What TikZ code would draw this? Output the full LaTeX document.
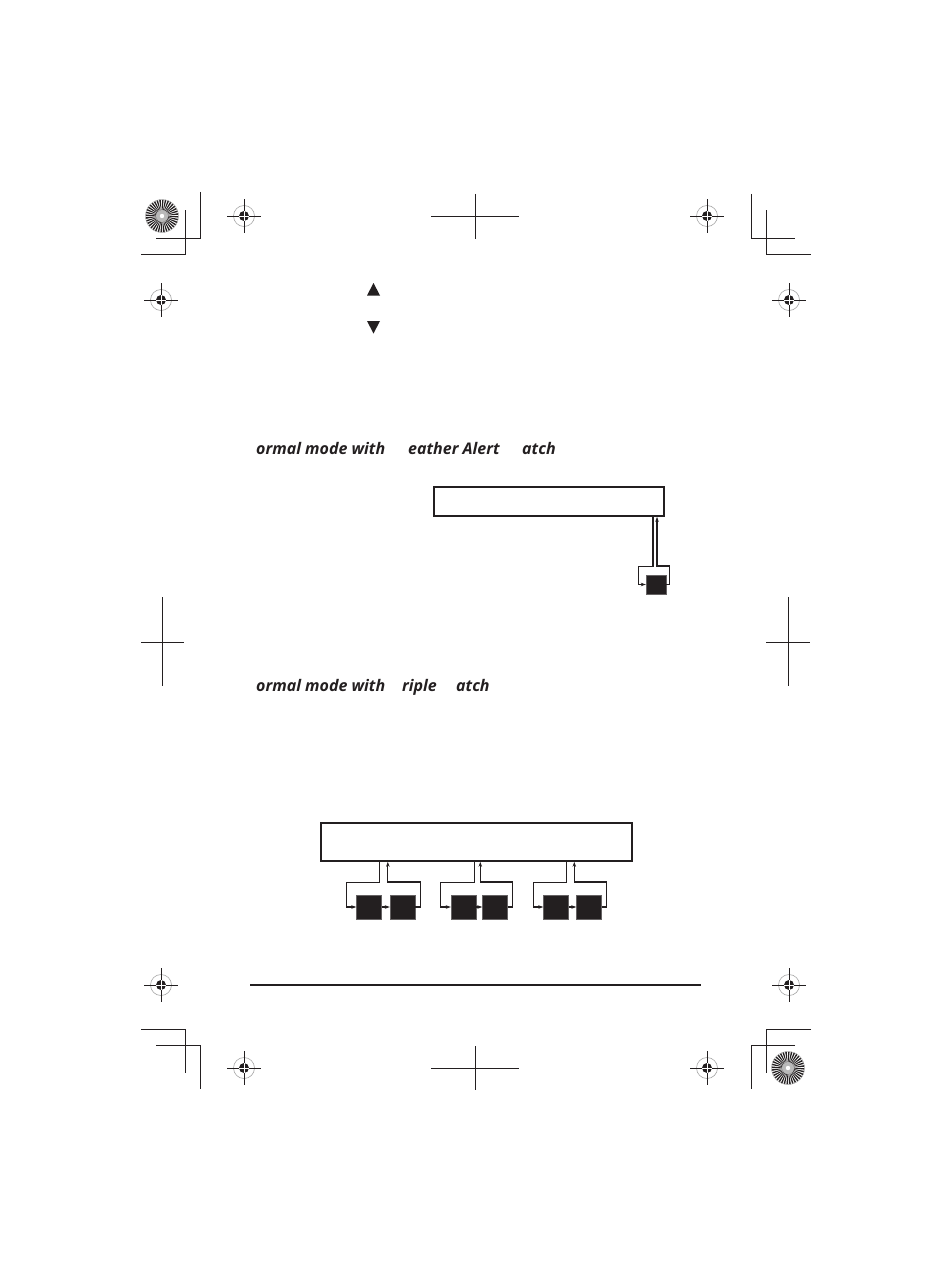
\documentclass[tikz,border=0pt]{standalone}
\usepackage{fontspec}
\newfontfamily\labelfont{Open Sans}
\usetikzlibrary{arrows.meta}
\definecolor{ink}{HTML}{231F20}
\tikzset{
  cropline/.style={line width=1pt, ink},
  box/.style={draw=ink, line width=1.6pt, fill=white, inner sep=0pt},
  blk/.style={fill=ink, draw=ink!70, line width=0.4pt, inner sep=0pt, minimum height=24pt, minimum width=25pt},
  conn/.style={draw=ink, line width=1.1pt},
  arr/.style={-{Stealth[length=5pt,width=3.5pt]}},
  lbl/.style={inner sep=0pt, anchor=base west, text=ink, font=\labelfont\bfseries\itshape\fontsize{16}{19}\selectfont},
  regcross/.pic={
    \draw[gray!70, line width=0.6pt] (0,0) circle (10.5);
    \fill[ink] (0,0) circle (5);
    \draw[ink, line width=0.9pt] (-17,0) -- (17,0) (0,-17) -- (0,17);
    \draw[white, line width=0.5pt] (-5,0) -- (5,0) (0,-5) -- (0,5);
  },
  starburst/.pic={
    \fill[white] (0,0) circle (16.5);
    \foreach \a in {0,10,...,350} {
      \fill[ink] (0,0) -- (\a:16.5) arc (\a:\a+5.5:16.5) -- cycle;
    }
    \draw[gray!60, line width=0.5pt] (0,0) circle (16.5);
    \fill[gray!55] (0,0) circle (6);
    \fill[white] (0,0) circle (2.2);
  }
}
\begin{document}
\begin{tikzpicture}[x=1pt,y=-1pt]
\useasboundingbox (0,0) rectangle (950,1284);
\fill[white] (0,0) rectangle (950,1284);

% starbursts
\pic at (162,216) {starburst};
\pic at (788,1068) {starburst};

% registration crosshairs
\foreach \p in {(244,216),(707,216),(161,300),(789,300),(161,985),(789,985),(244,1068),(707,1068)}
  \pic at \p {regcross};

% corner crop marks
\draw[cropline] (200,192) -- (200,238) -- (156,238);
\draw[cropline] (185,210) -- (185,254) -- (141,254);
\draw[cropline] (751,194) -- (751,238) -- (795,238);
\draw[cropline] (766,210) -- (766,254) -- (811,254);
\draw[cropline] (141,1029) -- (185,1029) -- (185,1073);
\draw[cropline] (156,1045) -- (200,1045) -- (200,1089);
\draw[cropline] (811,1029) -- (766,1029) -- (766,1073);
\draw[cropline] (795,1045) -- (751,1045) -- (751,1089);

% centre crosses
\draw[cropline] (431,216) -- (519,216) (475,194) -- (475,239);
\draw[cropline] (431,1068) -- (519,1068) (475,1046) -- (475,1090);
\draw[cropline] (141,642) -- (184,642) (162,597) -- (162,686);
\draw[cropline] (766,642) -- (810,642) (788,597) -- (788,686);

% triangles
\fill[ink] (367,295.5) -- (380,295.5) -- (373.5,283) -- cycle;
\fill[ink] (367,321) -- (380,321) -- (373.5,333.5) -- cycle;

% headings
\node[lbl] (h1a) at (256,454) {ormal mode with};
\node[lbl] (h1b) at (408,454) {eather Alert};
\node[lbl] (h1c) at (522,454) {atch};
\node[lbl] (h2a) at (256,691) {ormal mode with};
\node[lbl] (h2b) at (402,691) {riple};
\node[lbl] (h2c) at (456,691) {atch};

% first diagram
\node[box, minimum width=230pt, minimum height=29pt] (top) at (549,501.5) {};
\node[blk, minimum width=20pt, minimum height=19pt] (s1) at (656,584.5) {};
\draw[conn,arr] ([xshift=-3pt]s1.north |- top.south) -- ++(0,50) -| ([xshift=-7pt]s1.west) -- (s1.west);
\draw[conn,arr] (s1.east) -- ++(3,0) -- ++(0,-18.5) -| ([xshift=1pt]s1.north |- top.south);

% second diagram
\node[box, minimum width=311pt, minimum height=38pt] (bot) at (476.5,842) {};
\node[blk] (a1) at (369,907) {};
\node[blk] (b1) at (402.5,907) {};
\node[blk] (a2) at (463.5,907) {};
\node[blk] (b2) at (495,907) {};
\node[blk] (a3) at (556,907) {};
\node[blk] (b3) at (589,907) {};
\foreach \a/\b in {a1/b1,a2/b2,a3/b3} {
  \draw[conn,arr] ([xshift=-2pt]\a.east |- bot.south) -- ++(0,21) -| ([xshift=-10pt]\a.west) -- (\a.west);
  \draw[conn,arr] (\a.east) -- (\b.west);
  \draw[conn,arr] (\b.east) -- ++(5,0) -- ++(0,-25) -| ([xshift=-2pt]\b.west |- bot.south);
}

% rule
\draw[line width=2pt, ink] (250,985) -- (701,985);
\end{tikzpicture}
\end{document}
